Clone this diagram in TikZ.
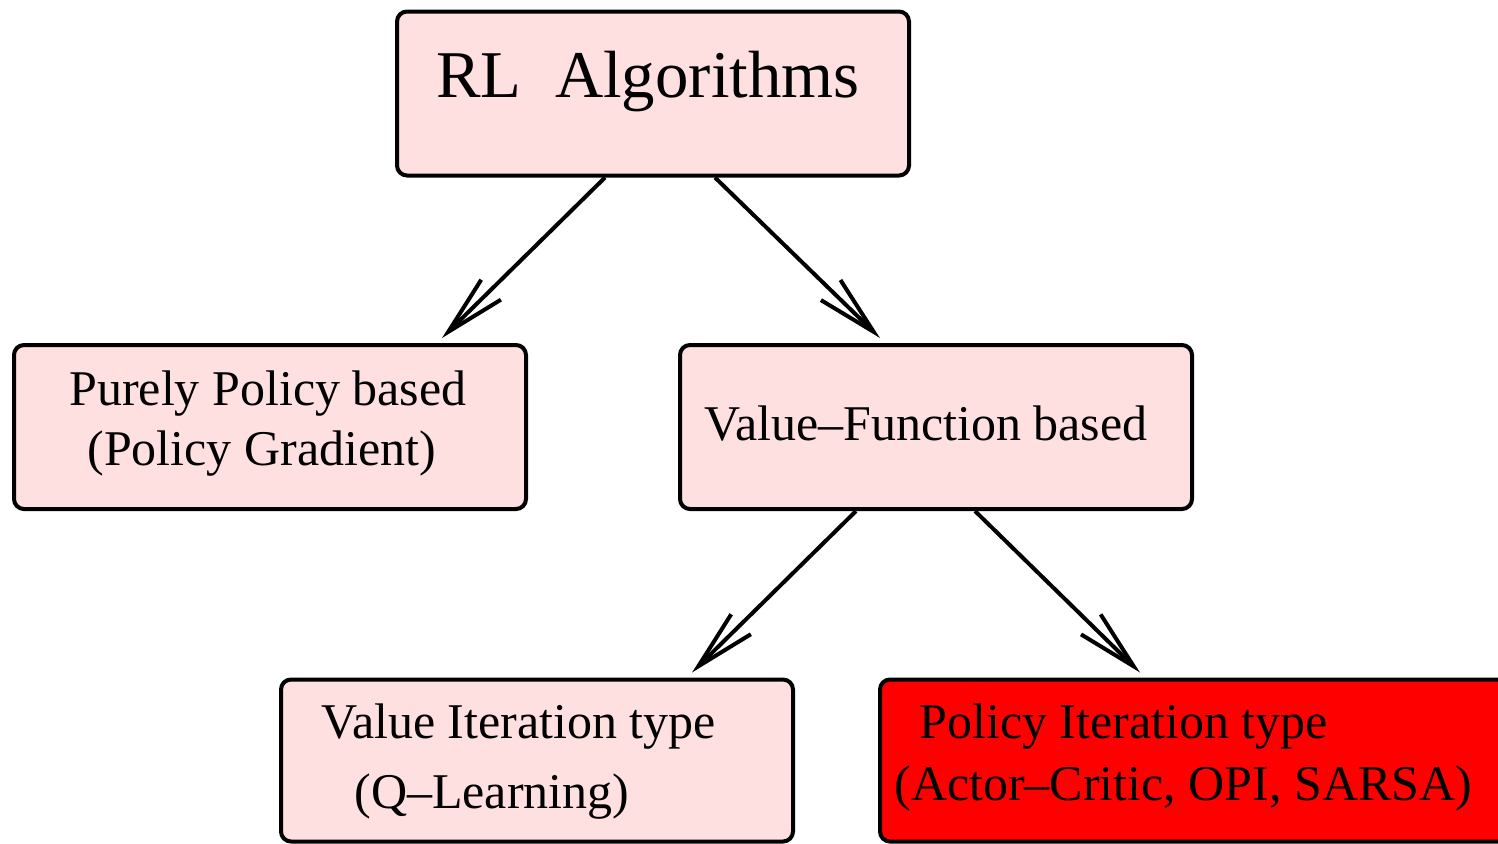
\documentclass[tikz,border=0pt]{standalone}
\usepackage{fontspec}
\setmainfont{Liberation Serif}
\usetikzlibrary{arrows.meta,calc}
\definecolor{boxpink}{RGB}{255,224,225}
\definecolor{boxred}{RGB}{255,0,0}
\tikzset{
  box/.style={draw=black, line width=2pt, rounded corners=5pt, fill=boxpink,
    inner sep=0pt, minimum width=256pt, minimum height=82pt},
  redbox/.style={box, fill=boxred, minimum width=320pt, minimum height=81pt},
  txt/.style={anchor=base west, inner sep=0pt, font=\fontsize{25}{30}\selectfont},
  bigtxt/.style={anchor=base west, inner sep=0pt, font=\fontsize{33.4}{40}\selectfont},
  conn/.style={line width=2pt, -{Straight Barb[length=30pt, width=14pt, line width=2pt]}}
}
\begin{document}
\begin{tikzpicture}[x=0.5pt, y=-0.5pt]
\clip (0,0) rectangle (1498,843);
\fill[white] (0,0) rectangle (1498,843);
% boxes
\node[box] (rl) at (653,93.5) {};
\node[box] (pp) at (270,427) {};
\node[box] (vf) at (936,427) {};
\node[box, minimum height=81pt] (vi) at (537,760.5) {};
\node[redbox] (pi) at (1200,760.5) {};
% texts
\node[bigtxt] (rlt) at (436,97) {RL~~Algorithms};
\node[txt] (pp1) at (69,405) {Purely Policy based};
\node[txt] (pp2) at (87,465) {(Policy Gradient)};
\node[txt] (vft) at (704,440) {Value--Function based};
\node[txt] (vi1) at (321,738) {Value Iteration type};
\node[txt] (vi2) at (354,808) {(Q--Learning)};
\node[txt] (pi1) at (919,738) {Policy Iteration type};
\node[txt] (pi2) at (894,800) {(Actor--Critic, OPI, SARSA)};
% connectors
\draw[conn] ($(rl.south)+(-48,0)$) -- ($(pp.north)+(172,-5)$);
\draw[conn] ($(rl.south)+(62,0)$) -- ($(vf.north)+(-56,-5)$);
\draw[conn] ($(vf.south)+(-80,0)$) -- ($(vi.north)+(155,-5)$);
\draw[conn] ($(vf.south)+(39,0)$) -- ($(pi.north)+(-60,-5)$);
\end{tikzpicture}
\end{document}
